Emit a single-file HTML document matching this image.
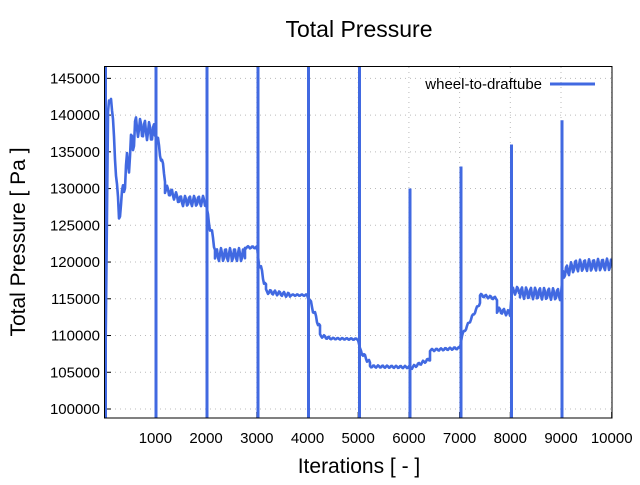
<!DOCTYPE html>
<html><head><meta charset="utf-8"><style>
body{margin:0;background:#fff}
svg text{font-family:"Liberation Sans",sans-serif;fill:#000}
</style></head><body>
<svg id="s" width="640" height="480" xmlns="http://www.w3.org/2000/svg">
<rect width="640" height="480" fill="#fff"/>
<g id="grid" stroke="#bbb" stroke-width="1" stroke-dasharray="1,4"></g>
<g id="ticks" stroke="#000" stroke-width="1"></g>
<g id="lab" font-size="15"></g>
<defs><clipPath id="c"><rect x="105" y="67" width="507" height="351"/></clipPath></defs>
<g clip-path="url(#c)" fill="none" stroke="#4169e1" stroke-width="2.6" stroke-linejoin="round">
<path id="p"/>
<g id="sp" stroke-width="3"></g>
</g>
<rect x="104.5" y="66.5" width="507.5" height="351.5" fill="none" stroke="#000" stroke-width="1"/>
<text x="359" y="37" font-size="23" text-anchor="middle">Total Pressure</text>
<text x="359" y="473" font-size="21" text-anchor="middle">Iterations [ - ]</text>
<text transform="translate(25,242) rotate(-90)" font-size="21" text-anchor="middle">Total Pressure [ Pa ]</text>
<text x="542" y="89" font-size="15" text-anchor="end">wheel-to-draftube</text>
<line x1="550" y1="84" x2="595" y2="84" stroke="#4169e1" stroke-width="3"/>
</svg>
<script>
function Y(v){return 409-(v-100000)/5000*36.74}
function X(i){return 104.7+i*0.0507}
var g=document.getElementById('grid'),t=document.getElementById('ticks'),l=document.getElementById('lab'),h='',th='',lh='';
for(var v=100000;v<=145000;v+=5000){var y=Y(v);h+='<line x1="105" x2="612" y1="'+y+'" y2="'+y+'"/>';th+='<line x1="105" x2="111" y1="'+y+'" y2="'+y+'"/>';lh+='<text x="100" y="'+(y+5)+'" text-anchor="end">'+v+'</text>';}
for(var i=1000;i<=10000;i+=1000){var x=X(i);h+='<line y1="67" y2="418" x1="'+x+'" x2="'+x+'"/>';th+='<line y1="418" y2="412" x1="'+x+'" x2="'+x+'"/>';lh+='<text x="'+x+'" y="443" text-anchor="middle">'+i+'</text>';}
g.innerHTML=h;t.innerHTML=th;l.innerHTML=lh;
var seg=[[105,108,100000,140000,0],[108,111,140000,143000,1000],[111,119,143000,126000,800],[119,124,126000,131000,800],[124,135,131000,138000,2000],[135,155,138500,137500,1300],
[157,165,137000,131500,600],[165,180,130000,128500,600],[180,206,128300,128300,700],
[208,215,126000,122000,600],[215,245,121000,121000,900],[245,257,122000,122000,150],
[259,266,120000,116500,500],[266,290,116000,115500,300],[290,307,115500,115500,100],
[309,320,115000,111000,400],[320,330,110000,109600,200],[330,358,109600,109500,100],
[360,370,108000,106200,300],[370,409,105800,105700,150],
[411,430,105600,106800,200],[430,460,108000,108300,150],
[462,480,110000,114500,200],[480,497,115500,115000,200],[497,510,113500,113000,400],
[512,520,116000,116200,500],[520,561,115800,115600,800],
[563,575,118500,119500,800],[575,612,119500,119700,800]];
var d='',first=true;
seg.forEach(function(s){for(var x=s[0];x<=s[1];x+=1){var f=(x-s[0])/Math.max(1,s[1]-s[0]);var v=s[2]+(s[3]-s[2])*f+s[4]*Math.sin(x*1.4);d+=(first?'M':'L')+x+' '+Y(v).toFixed(1)+' ';first=false;}});
document.getElementById('p').setAttribute('d',d);
var spk=[[105.5,60],[156,60],[207,60],[258,60],[308.5,60],[359.5,60],[410,Y(130000)],[461,Y(133000)],[511.5,Y(136000)],[562,Y(139300)]],sh='';
spk.forEach(function(s){sh+='<line x1="'+s[0]+'" x2="'+s[0]+'" y1="'+s[1]+'" y2="425"/>';});
document.getElementById('sp').innerHTML=sh;
</script>
</body></html>
